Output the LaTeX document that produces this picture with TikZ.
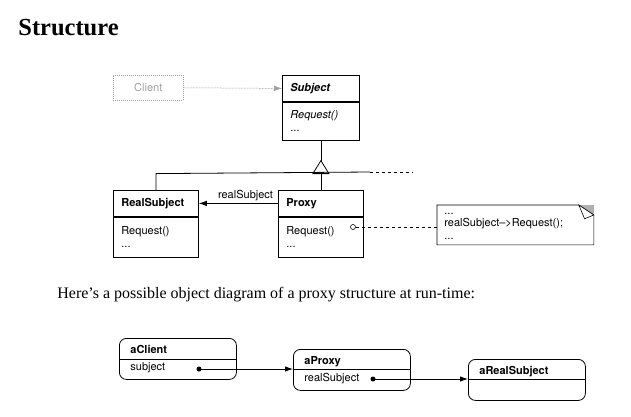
\documentclass[tikz,border=0pt]{standalone}
\usepackage{fontspec}
\setmainfont{Liberation Serif}
\setsansfont{TeX Gyre Heros}
\usetikzlibrary{positioning, calc, arrows.meta}
\definecolor{Faded}{RGB}{160, 160, 160}
\definecolor{Fold}{RGB}{175, 175, 175}

\begin{document}
\begin{tikzpicture}[x=1pt, y=-1pt, line width=0.8pt,
        font=\sffamily\fontsize{11}{13.5}\selectfont,
        head/.style={draw, anchor=north west, inner xsep=8pt, inner ysep=0pt, minimum height=26pt, align=left},
        body/.style={draw, inner xsep=8pt, inner ysep=0pt, align=left},
        obj/.style={draw, anchor=north west, rounded corners=7pt, minimum width=117pt, minimum height=41pt, inner sep=0pt},
        lbl/.style={anchor=base west, inner sep=0pt},
        arr/.style={-{Latex[length=8pt, width=5.5pt]}},
        ref/.style={circle, fill, inner sep=0pt, minimum size=5pt}]
            \useasboundingbox (0,0) rectangle (631,416);

            % Heading
            \node[anchor=base west, inner sep=0pt, font=\rmfamily\bfseries\fontsize{24.5}{28}\selectfont] (title) at (18,35) {Structure};

            % Class diagram
            \node[draw=Faded, dash pattern=on 1pt off 1pt, line width=0.5pt, text=Faded, anchor=north west,
                minimum width=70pt, minimum height=25pt] (client) at (113,75) {Client};

            \node[head, text width=61pt] (subjhead) at (282,75) {\textbf{\textit{Subject}}};
            \node[body, text width=61pt, minimum height=38pt, below=0pt of subjhead] (subjbody) {\textit{Request()}\\...};

            \node[head, text width=69pt] (realhead) at (113,190) {\textbf{RealSubject}};
            \node[body, text width=69pt, minimum height=40pt, below=0pt of realhead] (realbody) {Request()\\...};

            \node[head, text width=69pt] (proxyhead) at (278,190) {\textbf{Proxy}};
            \node[body, text width=69pt, minimum height=40pt, below=0pt of proxyhead] (proxybody) {Request()\\...};

            \draw[arr, Faded, line width=0.5pt, dash pattern=on 2pt off 1pt] (client.east) -- (subjhead.west);

            % Inheritance
            \draw (subjbody.south) -- ++(0,20) coordinate (apex);
            \draw (apex) -- ++(-8,13) -- ++(16,0) -- cycle;
            \coordinate (bar) at ($(apex)+(0,13)$);
            \coordinate (barend) at (370,172);
            \coordinate (dashend) at (413,172);
            \draw (realhead.north) -- (realhead.north |- bar) -- (barend);
            \draw[dash pattern=on 3pt off 3pt] (barend) -- (dashend);
            \draw (bar) -- (proxyhead.north);

            \draw[arr] (proxyhead.west) -- (realhead.east)
                node[pos=0.41, above, inner sep=2.5pt] (reflabel) {realSubject};

            % Note
            \node[anchor=north west, minimum width=156pt, minimum height=39pt, inner sep=0pt] (note) at (437,205) {};
            \fill[Fold] ($(note.north east)+(-15,0)$) -- (note.north east) -- ($(note.north east)+(0,10)$) -- cycle;
            \draw[line width=0.6pt] (note.north west) -- ($(note.north east)+(-15,0)$) -- ($(note.north east)+(0,10)$)
                -- (note.south east) -- (note.south west) -- cycle;
            \draw[line width=0.6pt, fill=white] ($(note.north east)+(-15,0)$) -- ($(note.north east)+(0,10)$)
                -- ($(note.north east)+(-9.2,13.8)$) -- cycle;
            \node[anchor=west, align=left, inner sep=0pt, font=\sffamily\fontsize{11}{12.5}\selectfont] (notetext) at (444,226)
                {...\\realSubject\textendash{}>Request();\\...};

            \node[circle, draw, fill=white, inner sep=0pt, minimum size=5pt, line width=0.6pt] (reqhook) at (353,227) {};
            \draw[dash pattern=on 3pt off 3pt] (reqhook.east) -- (note.west |- reqhook);

            % Caption
            \node[anchor=base west, inner sep=0pt, font=\rmfamily\fontsize{16}{19}\selectfont] (caption) at (57,298)
                {Here's a possible object diagram of a proxy structure at run-time:};

            % Object diagram
            \node[obj] (aclient) at (119,338) {};
            \draw ($(aclient.north west)+(0,21)$) -- ($(aclient.north east)+(0,21)$);
            \node[lbl] (aclientname) at (130,353.5) {\textbf{aClient}};
            \node[lbl] (aclientattr) at (130,370) {subject};
            \node[ref] (clientref) at (199,369) {};

            \node[obj] (aproxy) at (293,349) {};
            \draw ($(aproxy.north west)+(0,20)$) -- ($(aproxy.north east)+(0,20)$);
            \node[lbl] (aproxyname) at (304,364) {\textbf{aProxy}};
            \node[lbl] (aproxyattr) at (304,381) {realSubject};
            \node[ref] (proxyref) at (373,379) {};

            \node[obj] (areal) at (468,359) {};
            \draw ($(areal.north west)+(0,20)$) -- ($(areal.north east)+(0,20)$);
            \node[lbl] (arealname) at (479,374) {\textbf{aRealSubject}};

            \draw[arr] (clientref.center) -- (aproxy.west |- clientref);
            \draw[arr] (proxyref.center) -- (areal.west |- proxyref);
        \end{tikzpicture}
\end{document}
